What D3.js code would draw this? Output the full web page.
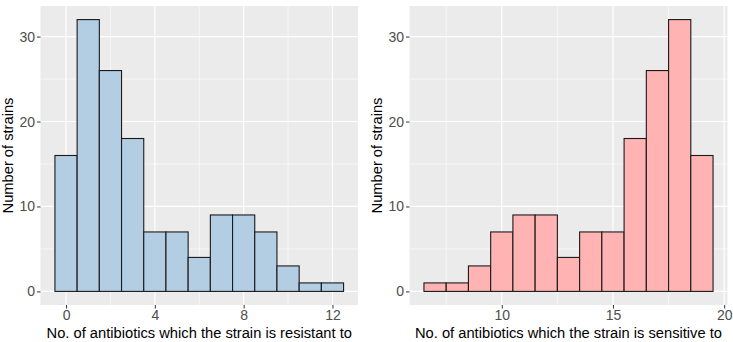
<!DOCTYPE html>
<html><head><meta charset="utf-8">
<script src="https://cdn.jsdelivr.net/npm/d3@7"></script>
<style>body{margin:0;background:#fff}svg{display:block}</style>
</head><body>
<svg id="c" width="733" height="342"></svg>
<script>
const resistantBins = [0,1,2,3,4,5,6,7,8,9,10,11,12];
const resistantCounts = [16,32,26,18,7,7,4,9,9,7,3,1,1];
const sensitiveBins = [7,8,9,10,11,12,13,14,15,16,17,18,19];
const sensitiveCounts = [1,1,3,7,9,9,4,7,7,18,26,32,16];
const leftXTicks = [0,4,8,12];
const leftXMinor = [2,6,10];
const rightXTicks = [10,15,20];
const rightXMinor = [7.5,12.5,17.5];
const yTicks = [0,10,20,30];
const yMinor = [5,15,25];
const yLabel = "Number of strains";
const leftXLabel = "No. of antibiotics which the strain is resistant to";
const rightXLabel = "No. of antibiotics which the strain is sensitive to";

const svg = d3.select("#c");
const font = "Liberation Sans, Arial, sans-serif";

function panel(opts){
  const {x0,x1,y0,y1,bins,counts,xTicks,xMinor,fill,xLabel,ylabX} = opts;
  const lo = d3.min(bins)-0.5, hi = d3.max(bins)+0.5, ex=(hi-lo)*0.05;
  const x = d3.scaleLinear().domain([lo-ex,hi+ex]).range([x0,x1]);
  const ymax = d3.max(counts);
  const y = d3.scaleLinear().domain([-ymax*0.05, ymax*1.05]).range([y1,y0]);
  const g = svg.append("g");
  g.append("rect").attr("x",x0).attr("y",y0).attr("width",x1-x0).attr("height",y1-y0).attr("fill","#EBEBEB");
  g.selectAll(".mx").data(xMinor).join("line").attr("x1",d=>x(d)).attr("x2",d=>x(d)).attr("y1",y0).attr("y2",y1).attr("stroke","#fff").attr("stroke-width",0.6);
  g.selectAll(".my").data(yMinor).join("line").attr("y1",d=>y(d)).attr("y2",d=>y(d)).attr("x1",x0).attr("x2",x1).attr("stroke","#fff").attr("stroke-width",0.6);
  g.selectAll(".Mx").data(xTicks).join("line").attr("x1",d=>x(d)).attr("x2",d=>x(d)).attr("y1",y0).attr("y2",y1).attr("stroke","#fff").attr("stroke-width",1.2);
  g.selectAll(".My").data(yTicks).join("line").attr("y1",d=>y(d)).attr("y2",d=>y(d)).attr("x1",x0).attr("x2",x1).attr("stroke","#fff").attr("stroke-width",1.2);
  g.selectAll(".bar").data(bins.map((b,i)=>({b,c:counts[i]}))).join("rect")
    .attr("x",d=>x(d.b-0.5)).attr("width",d=>x(d.b+0.5)-x(d.b-0.5))
    .attr("y",d=>y(d.c)).attr("height",d=>y(0)-y(d.c))
    .attr("fill",fill).attr("stroke","#1a1a1a").attr("stroke-width",1.1);
  const xa = g.append("g").attr("transform",`translate(0,${y1})`)
    .call(d3.axisBottom(x).tickValues(xTicks).tickSize(3.5).tickPadding(2).tickFormat(d3.format("d")));
  const ya = g.append("g").attr("transform",`translate(${x0},0)`)
    .call(d3.axisLeft(y).tickValues(yTicks).tickSize(3.5).tickPadding(2).tickFormat(d3.format("d")));
  [xa,ya].forEach(a=>{
    a.select(".domain").remove();
    a.selectAll(".tick line").attr("stroke","#333").attr("stroke-width",1);
    a.selectAll(".tick text").attr("fill","#4D4D4D").style("font-family",font).style("font-size","14px");
  });
  g.append("text").attr("x",(x0+x1)/2).attr("y",y1+33).attr("text-anchor","middle")
    .style("font-family",font).style("font-size","14.7px").attr("fill","#000").text(xLabel);
  g.append("text").attr("transform",`translate(${ylabX},${(y0+y1)/2}) rotate(-90)`).attr("text-anchor","middle")
    .style("font-family",font).style("font-size","14.7px").attr("fill","#000").text(yLabel);
}

panel({x0:40.5,x1:358,y0:6,y1:305,bins:resistantBins,counts:resistantCounts,xTicks:leftXTicks,xMinor:leftXMinor,fill:"#B3CDE3",xLabel:leftXLabel,ylabX:13});
panel({x0:409.5,x1:727.5,y0:6,y1:305,bins:sensitiveBins,counts:sensitiveCounts,xTicks:rightXTicks,xMinor:rightXMinor,fill:"#FFB3B3",xLabel:rightXLabel,ylabX:382});
</script>
</body></html>
